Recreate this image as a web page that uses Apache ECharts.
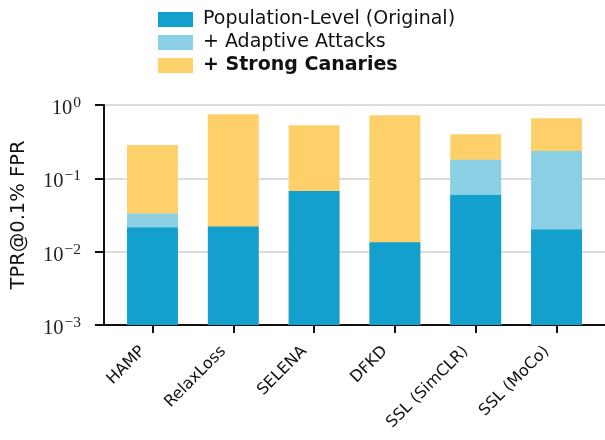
<!DOCTYPE html>
<html>
<head>
<meta charset="utf-8">
<script src="https://cdn.jsdelivr.net/npm/echarts@6/dist/echarts.min.js"></script>
<style>
  html, body { margin: 0; padding: 0; background: #fff; }
  #chart { width: 605px; height: 440px; }
</style>
</head>
<body>
<div id="chart"></div>
<script>
// Defenses evaluated, one bar group per category
const categories = ['HAMP', 'RelaxLoss', 'SELENA', 'DFKD', 'SSL (SimCLR)', 'SSL (MoCo)'];

// TPR at 0.1% FPR for each attack setting (null where not reported)
const populationLevel = [0.0214, 0.0221, 0.0672, 0.0134, 0.0593, 0.0201];
const adaptiveAttacks = [0.0332, null, null, null, 0.179, 0.235];
const strongCanaries = [0.284, 0.747, 0.529, 0.724, 0.400, 0.659];

const seriesNames = ['Population-Level (Original)', '+ Adaptive Attacks', '+ Strong Canaries'];
const yTicks = [0.001, 0.01, 0.1, 1];

const Y_MIN = 0.001;
const Y_MAX = 1;
const BAR_HALF = 0.315; // half bar width in category units

function toPoints(values) {
  const pts = [];
  values.forEach(function (v, i) { if (v != null) pts.push([i, v]); });
  return pts;
}

// Bars rise from the bottom of the log axis up to their value
function renderBar(params, api) {
  const x = api.value(0);
  const v = api.value(1);
  const top = api.coord([x, v]);
  const base = api.coord([x, Y_MIN]);
  const left = api.coord([x - BAR_HALF, v])[0];
  const right = api.coord([x + BAR_HALF, v])[0];
  return {
    type: 'rect',
    shape: { x: left, y: top[1], width: right - left, height: base[1] - top[1] },
    style: { fill: api.visual('color') }
  };
}

const supMap = { '-': '\u2212' };
function expLabel(v) {
  const e = Math.round(Math.log10(v));
  const s = String(e).split('').map(function (c) { return supMap[c] || c; }).join('');
  return '{base|10}{sup|' + s + '}';
}

const chart = echarts.init(document.getElementById('chart'), null, { renderer: 'canvas' });

const colors = ['#14a0ce', '#8bd0e5', '#fed06a'];
const SANS = 'DejaVu Sans';
const SERIF = 'Liberation Serif';

chart.setOption({
  animation: false,
  grid: { left: 104, right: 0, top: 105, bottom: 115, containLabel: false },
  legend: {
    orient: 'vertical',
    left: 158,
    top: 10,
    padding: 0,
    itemWidth: 35,
    itemHeight: 15,
    itemGap: 4,
    icon: 'rect',
    data: seriesNames,
    formatter: function (name) {
      return name === seriesNames[2] ? '{b|' + name + '}' : '{n|' + name + '}';
    },
    textStyle: {
      fontFamily: SANS,
      fontSize: 19,
      color: '#111',
      rich: {
        n: { fontFamily: SANS, fontSize: 19, lineHeight: 19, color: '#111', padding: [0, 0, 0, 5] },
        b: { fontFamily: SANS, fontSize: 19, lineHeight: 19, fontWeight: 'bold', color: '#111', padding: [0, 0, 0, 5] }
      }
    }
  },
  xAxis: {
    type: 'value',
    min: -0.6,
    max: 5.6,
    splitLine: { show: false },
    axisLine: { show: true, onZero: false, lineStyle: { color: '#111', width: 2 } },
    axisTick: {
      show: true,
      customValues: categories.map(function (c, i) { return i; }),
      length: 8,
      lineStyle: { color: '#111', width: 2 }
    },
    axisLabel: {
      customValues: categories.map(function (c, i) { return i; }),
      formatter: function (v) { return categories[Math.round(v)]; },
      rotate: 45,
      margin: 14,
      padding: [0, 14, 0, 0],
      fontFamily: SANS,
      fontSize: 16,
      color: '#111'
    }
  },
  yAxis: {
    type: 'log',
    logBase: 10,
    min: Y_MIN,
    max: Y_MAX,
    name: 'TPR@0.1% FPR',
    nameLocation: 'middle',
    nameRotate: 90,
    nameGap: 75,
    nameTextStyle: { fontFamily: SANS, fontSize: 19.5, color: '#111' },
    axisLine: { show: true, onZero: false, lineStyle: { color: '#111', width: 2 } },
    axisTick: { show: true, length: 9, lineStyle: { color: '#111', width: 2 } },
    splitLine: { show: true, lineStyle: { color: '#d0d0d0', width: 1.5 } },
    axisLabel: {
      margin: 23,
      formatter: function (v) { return expLabel(v); },
      fontFamily: SERIF,
      fontSize: 20,
      color: '#111',
      rich: {
        base: { fontFamily: SERIF, fontSize: 20.5, color: '#222', lineHeight: 20, verticalAlign: 'bottom', padding: [0, 0, -4, 0] },
        sup: { fontFamily: SERIF, fontSize: 15.5, color: '#222', lineHeight: 15, verticalAlign: 'top', padding: [0, 0, 6, 1] }
      }
    }
  },
  series: [
    {
      name: seriesNames[2],
      type: 'custom',
      renderItem: renderBar,
      encode: { x: 0, y: 1 },
      itemStyle: { color: colors[2] },
      z: 1,
      data: toPoints(strongCanaries)
    },
    {
      name: seriesNames[1],
      type: 'custom',
      renderItem: renderBar,
      encode: { x: 0, y: 1 },
      itemStyle: { color: colors[1] },
      z: 2,
      data: toPoints(adaptiveAttacks)
    },
    {
      name: seriesNames[0],
      type: 'custom',
      renderItem: renderBar,
      encode: { x: 0, y: 1 },
      itemStyle: { color: colors[0] },
      z: 3,
      data: toPoints(populationLevel)
    }
  ]
});
</script>
</body>
</html>
